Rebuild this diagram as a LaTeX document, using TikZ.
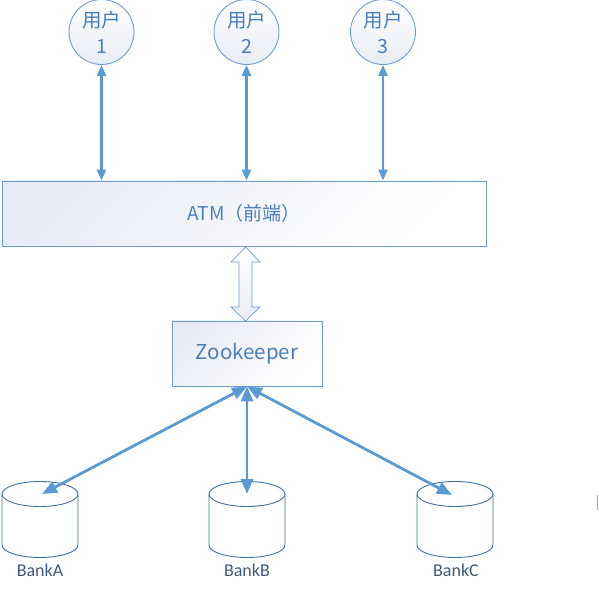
\documentclass[tikz,border=0pt]{standalone}
\usepackage{fontspec}
\setmainfont{Noto Sans CJK SC}
\newfontfamily\bankfont{Carlito}
\usetikzlibrary{arrows.meta}
\definecolor{arrowblue}{HTML}{5B9BD5}
\definecolor{boxline}{HTML}{6E9DD2}
\definecolor{boxfill}{HTML}{E8ECF6}
\definecolor{txtblue}{HTML}{4A7EBB}
\definecolor{cylline}{HTML}{41719C}
\definecolor{banktxt}{HTML}{3D5A7A}
\tikzset{
  boxstyle/.style={draw=boxline, line width=0.9pt, top color=boxfill, bottom color=white, shading angle=45, inner sep=0pt, text=txtblue},
  userstyle/.style={circle, draw=boxline, line width=0.9pt, top color=white, bottom color=boxfill, minimum size=65pt, inner sep=0pt, text=txtblue, align=center, font=\fontsize{19.5}{26}\selectfont},
  toparrow/.style={draw=arrowblue, line width=2.6pt, {Triangle[length=11pt,width=9pt]}-{Triangle[length=11pt,width=9pt]}},
  botarrow/.style={draw=arrowblue, line width=2.8pt, {Triangle[length=15pt,width=12pt]}-{Triangle[length=15pt,width=12pt]}},
  cyl/.style={draw=cylline, line width=0.9pt, fill=white},
  banklabel/.style={text=banktxt, font=\bankfont\fontsize{18}{20}\selectfont, inner sep=0pt},
  hollow/.style={draw=boxline, line width=0.7pt, top color=white, bottom color=boxfill, shading angle=45}
}
\begin{document}
\begin{tikzpicture}[x=1pt,y=1pt]
\useasboundingbox (0,0) rectangle (599,591);
% users
\node[userstyle] (u1) at (101.5,559) {用户\\1};
\node[userstyle] (u2) at (246.5,559) {用户\\2};
\node[userstyle] (u3) at (383,559) {用户\\3};
% ATM
\node[boxstyle, minimum width=484pt, minimum height=65pt, font=\fontsize{19}{22}\selectfont] (atm) at (244,377.5) {ATM（前端）};
% Zookeeper
\node[boxstyle, minimum width=150pt, minimum height=65pt, font=\fontsize{20.5}{23}\selectfont] (zk) at (247,237.5) {Zookeeper};
% top arrows
\draw[toparrow] (u1.south) -- (u1.south |- atm.north);
\draw[toparrow] (u2.south) -- (u2.south |- atm.north);
\draw[toparrow] (u3.south) -- (u3.south |- atm.north);
% hollow double arrow
\coordinate (hA) at (245.5,344);
\coordinate (hB) at (245.5,270);
\draw[hollow] (hA) -- ++(14.5,-15) -- ++(-8,0) -- ++(0,-45) -- ++(8,0) -- (hB) -- ++(-14.5,14) -- ++(8,0) -- ++(0,45) -- ++(-8,0) -- cycle;
% cylinders
\foreach \cx/\nm in {40/A,247/B,455/C}{
  \draw[cyl] (\cx-38,97) -- (\cx-38,46) arc[start angle=180,end angle=360,x radius=38,y radius=12.5] -- (\cx+38,97);
  \draw[cyl] (\cx,97) ellipse[x radius=38,y radius=12.5];
  \coordinate (top\nm) at (\cx,97);
}
\node[banklabel] (lA) at (40,21) {BankA};
\node[banklabel] (lB) at (247,21) {BankB};
\node[banklabel] (lC) at (456,21) {BankC};
% bottom arrows
\coordinate (tA) at (42,97);
\coordinate (tB) at (247,97);
\coordinate (tC) at (452,96);
\draw[botarrow] (zk.south) -- (tA);
\draw[botarrow] (zk.south) -- (tB);
\draw[botarrow] (zk.south) -- (tC);
% stray mark
\coordinate (m1) at (597.5,96);
\coordinate (m2) at (597.5,81);
\draw[gray!70, line width=0.8pt] (m1) -- (m2);
\end{tikzpicture}
\end{document}
